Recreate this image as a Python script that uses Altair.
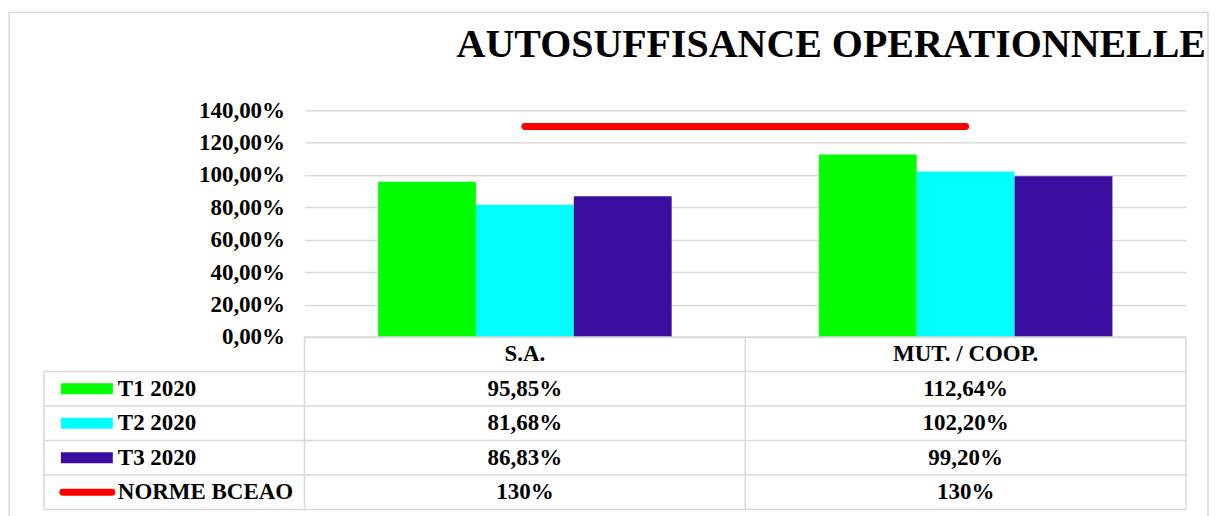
import altair as alt
import pandas as pd

# ---------------- data ----------------
title_text = "AUTOSUFFISANCE OPERATIONNELLE"
categories = ["S.A.", "MUT. / COOP."]
series = ["T1 2020", "T2 2020", "T3 2020"]
norme_label = "NORME BCEAO"
t1_values = [95.85, 112.64]
t2_values = [81.68, 102.20]
t3_values = [86.83, 99.20]
norme_values = [130, 130]
y_ticks = [0, 20, 40, 60, 80, 100, 120, 140]
colors = ["#00FF00", "#00FFFF", "#3A0E9F", "#FF0000"]

# ---------------- style ----------------
FONT = "Liberation Serif"
W, H = 883, 227
TH = 173
GRID = "#d9d9d9"
FS = 23

rows = []
for s, vals in zip(series, [t1_values, t2_values, t3_values]):
    for c, v in zip(categories, vals):
        rows.append({"cat": c, "row": s, "value": v / 100,
                     "label": f"{v:.2f}".replace(".", ",") + "%"})
bars_df = pd.DataFrame(rows)
norme_df = pd.DataFrame({"cat": categories, "row": norme_label,
                         "value": [v / 100 for v in norme_values],
                         "label": [f"{v:g}%" for v in norme_values]})
header_df = pd.DataFrame({"cat": categories, "row": "hdr", "label": categories})
table_df = pd.concat([header_df, bars_df[["cat", "row", "label"]],
                      norme_df[["cat", "row", "label"]]], ignore_index=True)
rowlab_df = pd.DataFrame({"row": series + [norme_label]})

color_scale = alt.Scale(domain=series + [norme_label], range=colors)
one = alt.Data(values=[{}])

# ---------------- top chart ----------------
x_top = alt.X("cat:N", sort=categories,
              scale=alt.Scale(domain=categories, paddingInner=0.334, paddingOuter=0.167),
              axis=None)
y_axis = alt.Axis(values=[round(t / 100, 2) for t in y_ticks], tickCount=8, title=None,
                  labelExpr="replace(format(datum.value, '.2%'), '.', ',')",
                  domain=False, ticks=False, labelPadding=20,
                  labelOverlap=False, labelFlush=False,
                  labelFont=FONT, labelFontSize=FS, labelFontWeight="bold",
                  labelColor="black", grid=True, gridColor=GRID, gridWidth=1.5)
y_scale = alt.Scale(domain=[0, 1.4], nice=False, zero=True)
y_top = alt.Y("value:Q", scale=y_scale, axis=y_axis)

bars = alt.Chart(bars_df).mark_bar().encode(
    x=x_top,
    xOffset=alt.XOffset("row:N", sort=series,
                        scale=alt.Scale(domain=series, paddingInner=0, paddingOuter=0)),
    y=y_top,
    color=alt.Color("row:N", scale=color_scale, legend=None),
)
norme_line = alt.Chart(norme_df).mark_line(color="#FF0000", strokeWidth=7,
                                           strokeCap="round").encode(
    x=x_top, y=y_top
)
border = alt.Chart(one).mark_rect(fill="transparent", stroke=GRID, strokeWidth=1.5).encode(
    x=alt.value(-296), x2=alt.value(905), y=alt.value(-98), y2=alt.value(412)
)
title_mark = alt.Chart(alt.Data(values=[{"t": title_text}])).mark_text(
    font=FONT, fontSize=40, fontWeight="bold", color="black",
    align="right", baseline="alphabetic"
).encode(x=alt.value(W + 20), y=alt.value(-53), text="t:N")

top = alt.layer(bars, norme_line, border, title_mark).properties(width=W, height=H)

# ---------------- table ----------------
table_rows = ["hdr"] + series + [norme_label]
row_scale = alt.Scale(domain=table_rows, paddingInner=0, paddingOuter=0)
cat_scale = alt.Scale(domain=categories, paddingInner=0, paddingOuter=0)

cell_text = alt.Chart(table_df).mark_text(font=FONT, fontSize=FS, fontWeight="bold",
                                          color="black", baseline="middle").encode(
    x=alt.X("cat:N", scale=cat_scale, axis=None),
    y=alt.Y("row:N", scale=row_scale, axis=None),
    text="label:N",
)
row_text = alt.Chart(rowlab_df).mark_text(font=FONT, fontSize=FS, fontWeight="bold",
                                          color="black", align="left",
                                          baseline="middle").encode(
    x=alt.value(-187),
    y=alt.Y("row:N", scale=row_scale, axis=None),
    text="row:N",
)
keys = alt.Chart(rowlab_df).transform_filter(
    alt.FieldOneOfPredicate(field="row", oneOf=series)
).mark_rule(strokeWidth=11, strokeCap="butt").encode(
    x=alt.value(-244), x2=alt.value(-192),
    y=alt.Y("row:N", scale=row_scale, axis=None),
    color=alt.Color("row:N", scale=color_scale, legend=None),
)
key_norme = alt.Chart(rowlab_df).transform_filter(
    alt.FieldEqualPredicate(field="row", equal=norme_label)
).mark_rule(strokeWidth=7, strokeCap="round").encode(
    x=alt.value(-242), x2=alt.value(-193),
    y=alt.Y("row:N", scale=row_scale, axis=None),
    color=alt.Color("row:N", scale=color_scale, legend=None),
)
hlines = alt.Chart(rowlab_df).mark_rule(color=GRID, strokeWidth=1.5).encode(
    y=alt.Y("row:N", scale=row_scale, axis=None, bandPosition=0),
    x=alt.value(-261), x2=alt.value(W),
)
bottom_line = alt.Chart(one).mark_rule(color=GRID, strokeWidth=1.5).encode(
    y=alt.value(TH), x=alt.value(-261), x2=alt.value(W)
)
header_top = alt.Chart(one).mark_rule(color=GRID, strokeWidth=1.5).encode(
    y=alt.value(0), x=alt.value(0), x2=alt.value(W)
)
vlines = alt.Chart(header_df).mark_rule(color=GRID, strokeWidth=1.5).encode(
    x=alt.X("cat:N", scale=cat_scale, axis=None, bandPosition=0),
    y=alt.value(0), y2=alt.value(TH),
)
right_line = alt.Chart(one).mark_rule(color=GRID, strokeWidth=1.5).encode(
    x=alt.value(W), y=alt.value(0), y2=alt.value(TH)
)
left_line = alt.Chart(one).mark_rule(color=GRID, strokeWidth=1.5).encode(
    x=alt.value(-261), y=alt.value(TH / 5), y2=alt.value(TH)
)

table = alt.layer(hlines, bottom_line, header_top, vlines, right_line, left_line,
                  keys, key_norme, row_text, cell_text).properties(width=W, height=TH)

chart = alt.vconcat(top, table, spacing=0, bounds="flush").resolve_scale(
    x="independent", y="independent"
).properties(
    padding={"left": 0, "top": 3, "right": 0, "bottom": 0}
).configure_view(stroke=None)

chart.save("out.html", embed_options={"renderer": "svg", "actions": False})
